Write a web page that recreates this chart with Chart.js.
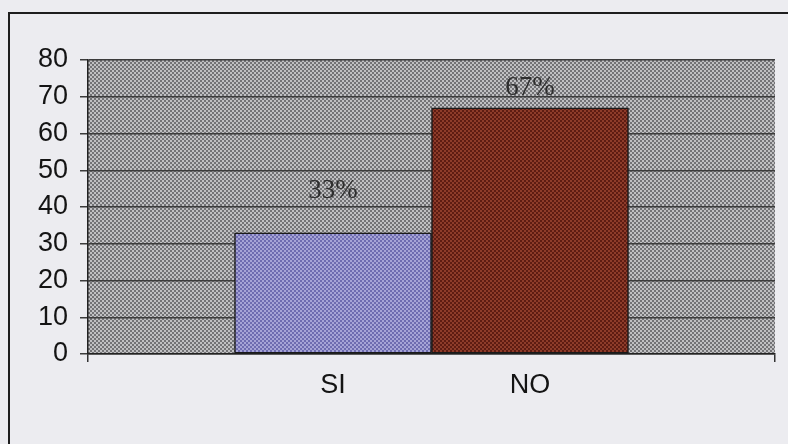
<!DOCTYPE html>
<html>
<head>
<meta charset="utf-8">
<script src="https://cdn.jsdelivr.net/npm/chart.js@4.4.1/dist/chart.umd.min.js"></script>
<style>
  html, body { margin: 0; padding: 0; background: #ececf0; }
  #wrap { position: relative; width: 788px; height: 444px; }
  canvas { display: block; }
</style>
</head>
<body>
<div id="wrap"><canvas id="c" width="788" height="444"></canvas></div>
<script>
// ---- data ----
const categories = ['SI', 'NO'];
const values = [33, 67];
const valueLabels = ['33%', '67%'];
const yTicks = [0, 10, 20, 30, 40, 50, 60, 70, 80];

function makePattern(dark, light) {
  const t = document.createElement('canvas');
  t.width = 4; t.height = 4;
  const g = t.getContext('2d');
  g.fillStyle = light; g.fillRect(0, 0, 4, 4);
  g.fillStyle = dark;
  g.fillRect(0, 0, 2, 2);
  g.fillRect(2, 2, 2, 2);
  return g.createPattern(t, 'repeat');
}
const ctx = document.getElementById('c').getContext('2d');
const bgPattern = makePattern('#737376', '#c0c0c2');
const barPatterns = [makePattern('#6e6cb0', '#a6a4d6'), makePattern('#5e1c12', '#8e3c2a')];

const xPos = categories.map((_, i) => i + 1);
const points = values.map((v, i) => ({ x: xPos[i], y: v }));

const decor = {
  id: 'decor',
  beforeDraw(chart) {
    const c = chart.ctx;
    c.save();
    c.fillStyle = '#ececf0';
    c.fillRect(0, 0, chart.width, chart.height);
    c.strokeStyle = '#1e1e1e';
    c.lineWidth = 2;
    c.beginPath();
    c.moveTo(9, chart.height);
    c.lineTo(9, 13);
    c.lineTo(chart.width, 13);
    c.stroke();
    const a = chart.chartArea;
    c.fillStyle = bgPattern;
    c.fillRect(a.left, a.top, a.right - a.left, a.bottom - a.top);
    c.restore();
  },
  afterDatasetsDraw(chart, args, opts) {
    const c = chart.ctx;
    const meta = chart.getDatasetMeta(0);
    c.save();
    c.font = '27px "Liberation Serif", "Times New Roman", serif';
    c.fillStyle = '#2e2e2e';
    c.textAlign = 'center';
    c.textBaseline = 'middle';
    meta.data.forEach((el, i) => {
      c.fillText(valueLabels[i], el.x, el.y - opts.offsets[i]);
    });
    c.restore();
  }
};

new Chart(ctx, {
  type: 'bar',
  data: {
    datasets: [{
      data: points,
      backgroundColor: barPatterns,
      borderColor: '#1a1a1a',
      borderWidth: 1.5,
      borderSkipped: false,
      barPercentage: 1,
      categoryPercentage: 1
    }]
  },
  options: {
    responsive: false,
    animation: false,
    events: [],
    layout: { padding: { left: 0, top: 60, right: 13, bottom: 0 } },
    plugins: {
      legend: { display: false },
      tooltip: { enabled: false },
      decor: { offsets: [42, 20] }
    },
    scales: {
      x: {
        type: 'linear',
        offset: false,
        min: 1.5 - 687 / 197 / 2,
        max: 1.5 + 687 / 197 / 2,
        afterBuildTicks(scale) {
          scale.ticks = [{ value: scale.min }].concat(xPos.map(v => ({ value: v })), [{ value: scale.max }]);
        },
        afterFit(scale) { scale.height = 90; },
        grid: {
          offset: false,
          drawOnChartArea: false,
          tickLength: 8,
          color: (c) => (c.tick && xPos.includes(c.tick.value)) ? 'rgba(0,0,0,0)' : '#333',
          lineWidth: 1.5
        },
        border: { display: true, color: '#222', width: 1.5 },
        ticks: {
          autoSkip: false,
          maxRotation: 0,
          padding: 7,
          color: '#141414',
          font: { family: '"Liberation Sans", Arial, sans-serif', size: 27 },
          callback: (v) => { const i = xPos.indexOf(v); return i >= 0 ? categories[i] : ''; }
        }
      },
      y: {
        min: 0,
        max: 80,
        afterBuildTicks(scale) { scale.ticks = yTicks.map(v => ({ value: v })); },
        afterFit(scale) { scale.width = 88; },
        grid: { color: '#3c3c3c', lineWidth: 1.5, tickLength: 8 },
        border: { display: true, color: '#222', width: 1.5 },
        ticks: {
          padding: 12,
          color: '#141414',
          font: { family: '"Liberation Sans", Arial, sans-serif', size: 27 }
        }
      }
    }
  },
  plugins: [decor]
});
</script>
</body>
</html>
